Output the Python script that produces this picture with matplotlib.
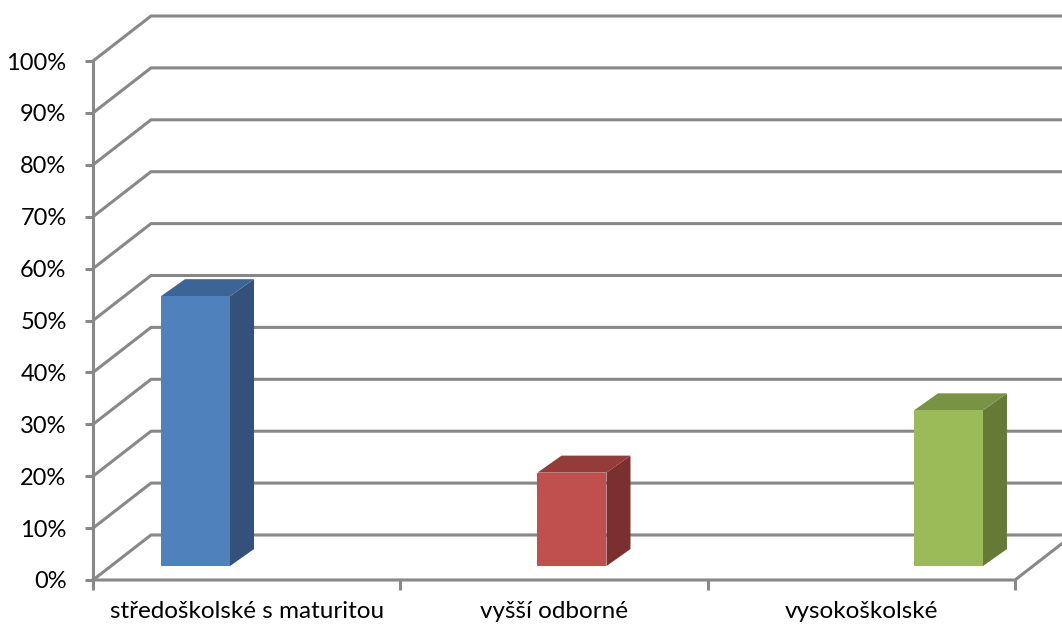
import matplotlib
matplotlib.use("Agg")
import matplotlib.pyplot as plt
from matplotlib.patches import Polygon

# Data
categories = ["středoškolské s maturitou", "vyšší odborné", "vysokoškolské"]
values = [52, 18, 30]
y_ticks = list(range(0, 101, 10))
y_labels = [f"{t}%" for t in y_ticks]

front_colors = ["#4F81BD", "#C0504D", "#9BBB59"]
top_colors = ["#3B6597", "#943C3A", "#789343"]
side_colors = ["#32527C", "#7A302E", "#647A36"]

GRID = "#888888"
plt.rcParams["font.family"] = ["Lato", "DejaVu Sans"]

W, H, DPI = 1062, 627, 100
fig = plt.figure(figsize=(W / DPI, H / DPI), dpi=DPI)
fig.patch.set_facecolor("white")

# plot area = front plane of the 3-D box
left_px, right_px, bottom_px, top_px = 93, 1015, 580, 61
ax = fig.add_axes([left_px / W, 1 - bottom_px / H,
                   (right_px - left_px) / W, (bottom_px - top_px) / H])
n = len(categories)
ax.set_xlim(0, n)
ax.set_ylim(0, 100)
ax.patch.set_alpha(0)
for s in ax.spines.values():
    s.set_visible(False)

# depth of the box expressed in data units
px_per_x = (right_px - left_px) / n
px_per_y = (bottom_px - top_px) / 100
DX = 58 / px_per_x
DY = 45 / px_per_y

lw = 2.2
# walls: left-wall diagonals + back-wall horizontals
for t in y_ticks:
    ax.plot([0, DX, n + DX], [t, t + DY, t + DY], color=GRID, lw=lw,
            clip_on=False, zorder=1, solid_capstyle="butt", solid_joinstyle="miter")
# floor front edge and right diagonal
ax.plot([0, n, n + DX], [0, 0, DY], color=GRID, lw=lw, clip_on=False, zorder=1,
        solid_joinstyle="miter")
# vertical value axis
ax.plot([0, 0], [0, 100], color=GRID, lw=lw, clip_on=False, zorder=1)

# bars
bar_width = 69 / px_per_x
bar_front = 0.31            # depth position of the bar front face
bar_dx = 24 / px_per_x      # bar depth projected
bar_dy = 17 / px_per_y
spread = 1.225
for i, v in enumerate(values):
    c = n / 2 + (i - 1) * spread
    x0 = c - bar_width / 2 + bar_front * DX
    x1 = c + bar_width / 2 + bar_front * DX
    y0 = bar_front * DY
    y1 = y0 + v
    front = [(x0, y0), (x1, y0), (x1, y1), (x0, y1)]
    top = [(x0, y1), (x1, y1), (x1 + bar_dx, y1 + bar_dy), (x0 + bar_dx, y1 + bar_dy)]
    side = [(x1, y0), (x1 + bar_dx, y0 + bar_dy), (x1 + bar_dx, y1 + bar_dy), (x1, y1)]
    for poly, col in ((side, side_colors[i]), (top, top_colors[i]), (front, front_colors[i])):
        ax.add_patch(Polygon(poly, closed=True, facecolor=col, edgecolor="none",
                             zorder=3, clip_on=False))

# ticks and labels
ax.set_yticks(y_ticks)
ax.set_yticklabels(y_labels)
ax.set_xticks(range(n + 1))
ax.set_xticklabels([])
ax.set_xticks([k + 0.5 for k in range(n)], minor=True)
ax.set_xticklabels(categories, minor=True)
ax.tick_params(axis="y", length=6, width=lw, color=GRID, pad=13, labelsize=17)
ax.tick_params(axis="x", which="major", length=7, width=lw, color=GRID, direction="out")
ax.tick_params(axis="x", which="minor", length=0, pad=15, labelsize=17.5)

fig.savefig("out.png", dpi=DPI, facecolor="white")
